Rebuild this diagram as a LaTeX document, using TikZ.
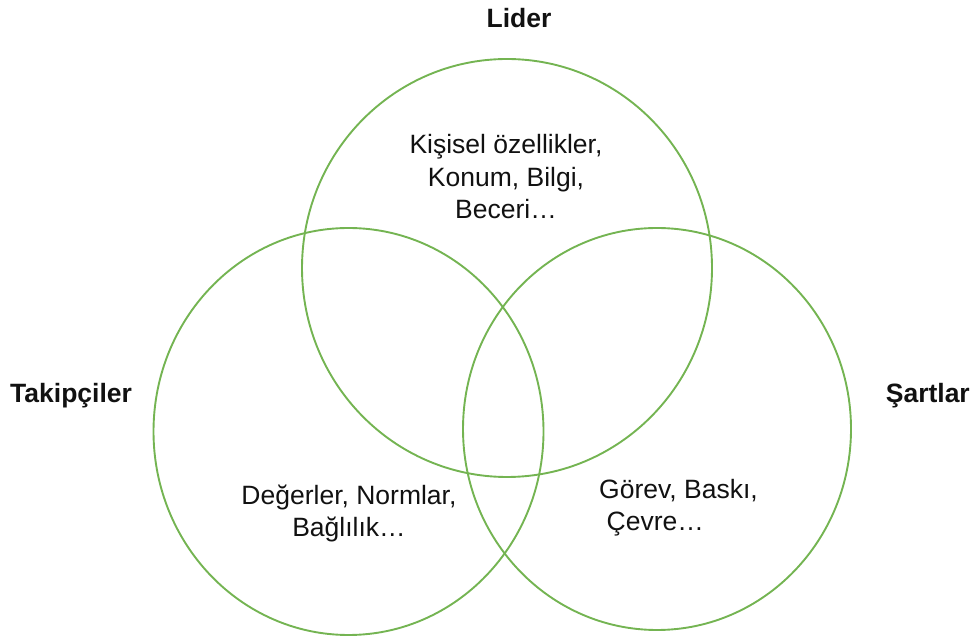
\documentclass[tikz,border=0pt]{standalone}
\usepackage{fontspec}
\setmainfont{Liberation Sans}
\usepackage{xcolor}
\definecolor{ink}{HTML}{111111}
\definecolor{vennG}{HTML}{74B452}
\tikzset{
  ring/.style={draw=vennG, line width=1.9pt},
  setname/.style={font=\bfseries\fontsize{26.5}{32}\selectfont, text=ink, inner sep=0pt},
  settext/.style={font=\fontsize{26.5}{32.5}\selectfont, text=ink, inner sep=0pt}
}

\begin{document}
\begin{tikzpicture}[x=1pt,y=1pt]
\useasboundingbox (0,0) rectangle (973,642);

% the three sets
\draw[ring] (507,374) ellipse [x radius=205, y radius=209];
\draw[ring] (348.5,210.5) ellipse [x radius=195, y radius=203.5];
\draw[ring] (657,213) ellipse [x radius=194, y radius=201];

% set names
\node[setname, anchor=base] (lider) at (519,614) {Lider};
\node[setname, anchor=base west] (takip) at (10,239) {Takipçiler};
\node[setname, anchor=base east] (sart) at (970,239) {Şartlar};

% contents (base = last line)
\node[settext, anchor=base, align=center] (liderTxt) at (506,423)
{Kişisel özellikler,\\ Konum, Bilgi,\\ Beceri…};
\node[settext, anchor=base, align=center] (takipTxt) at (349,105)
{Değerler, Normlar,\\ Bağlılık…};
\node[settext, anchor=base west, align=left] (sartTxt) at (599,111)
{Görev, Baskı,\\ \hspace*{7.5pt}Çevre…};

\end{tikzpicture}
\end{document}
